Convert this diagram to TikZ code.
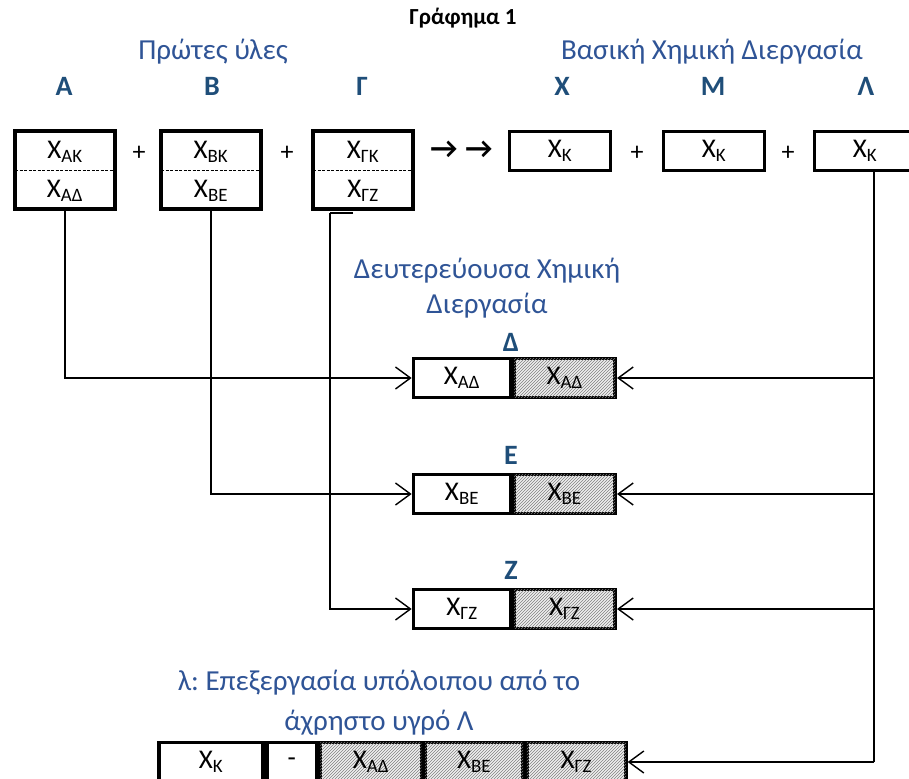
\documentclass[tikz,border=0pt]{standalone}
\usepackage{fontspec}
\setmainfont{Carlito}
\usetikzlibrary{arrows.meta,patterns}
\definecolor{hblue}{RGB}{47,84,150}
\definecolor{lblue}{RGB}{31,78,121}
\frenchspacing
\tikzset{
  bx/.style={draw, line width=3.7pt, inner sep=0pt, minimum height=39pt, font=\fontsize{27}{30}\selectfont},
  tallbx/.style={draw, line width=3.7pt, inner sep=0pt, minimum height=78pt, minimum width=100pt},
  hatch/.style={fill=gray!12, postaction={pattern=north east lines, pattern color=black!50}},
  txt/.style={inner sep=0pt, font=\fontsize{27}{30}\selectfont},
  head/.style={inner sep=0pt, text=hblue, font=\fontsize{29}{36}\selectfont, align=center},
  lab/.style={inner sep=0pt, text=lblue, font=\bfseries\fontsize{28}{30}\selectfont},
  plus/.style={inner sep=0pt, font=\fontsize{26}{28}\selectfont},
  arr/.style={inner sep=0pt, font=\bfseries\fontsize{30}{32}\selectfont},
  conn/.style={line width=1.4pt, -{Straight Barb[length=15pt,width=22pt,line width=1.4pt]}},
  plain/.style={line width=1.4pt},
  divider/.style={line width=0.8pt, dash pattern=on 3pt off 1.5pt}
}
\begin{document}
\begin{tikzpicture}[x=1pt,y=-1pt]
\useasboundingbox (0,0) rectangle (909,778);

% title and headers
\node[inner sep=0pt, font=\bfseries\fontsize{23}{26}\selectfont] (title) at (463,18) {Γράφημα 1};
\node[head] (hraw) at (213,52) {Πρώτες ύλες};
\node[head] (hmain) at (712,52) {Βασική Χημική Διεργασία};

\node[lab] (lA) at (64,86) {Α};
\node[lab] (lB) at (212,86) {Β};
\node[lab] (lG) at (362,86) {Γ};
\node[lab] (lX) at (562,86) {Χ};
\node[lab] (lM) at (713,86) {Μ};
\node[lab] (lL) at (866,86) {Λ};

% top raw material boxes
\node[tallbx] (Abox) at (65,170) {};
\node[tallbx] (Bbox) at (211,170) {};
\node[tallbx] (Gbox) at (363,170) {};
\draw[divider] ([xshift=2pt]Abox.west) -- ([xshift=-2pt]Abox.east);
\draw[divider] ([xshift=2pt]Bbox.west) -- ([xshift=-2pt]Bbox.east);
\draw[divider] ([xshift=2pt]Gbox.west) -- ([xshift=-2pt]Gbox.east);
\node[txt] (Ak) at (65,152) {Χ\textsubscript{ΑΚ}};
\node[txt] (Ad) at (65,191) {Χ\textsubscript{ΑΔ}};
\node[txt] (Bk) at (211,152) {Χ\textsubscript{ΒΚ}};
\node[txt] (Be) at (211,191) {Χ\textsubscript{ΒΕ}};
\node[txt] (Gk) at (363,152) {Χ\textsubscript{ΓΚ}};
\node[txt] (Gz) at (363,191) {Χ\textsubscript{ΓΖ}};

\node[plus] (p1) at (139,153) {+};
\node[plus] (p2) at (287,153) {+};
\node[arr] (ar1) at (444,150) {→};
\node[arr] (ar2) at (479,150) {→};

% main process boxes
\node[bx, minimum width=101pt] (Xbox) at (560,151) {Χ\textsubscript{Κ}};
\node[plus] (p3) at (637,153) {+};
\node[bx, minimum width=101pt] (Mbox) at (714,151) {Χ\textsubscript{Κ}};
\node[plus] (p4) at (788,153) {+};
\node[bx, minimum width=101pt] (Lbox) at (865,151) {Χ\textsubscript{Κ}};

% secondary process
\node[head, font=\fontsize{29}{35}\selectfont] (hsec) at (487,288) {Δευτερεύουσα Χημική\\Διεργασία};
\node[lab] (lD) at (511,342) {Δ};
\node[bx, minimum width=97pt] (Dl) at (462,378) {Χ\textsubscript{ΑΔ}};
\node[bx, hatch, minimum width=101pt, anchor=west] (Dr) at (Dl.east) {Χ\textsubscript{ΑΔ}};

\node[lab] (lE) at (511,455) {Ε};
\node[bx, minimum width=97pt] (El) at (462,494) {Χ\textsubscript{ΒΕ}};
\node[bx, hatch, minimum width=101pt, anchor=west] (Er) at (El.east) {Χ\textsubscript{ΒΕ}};

\node[lab] (lZ) at (511,570) {Ζ};
\node[bx, minimum width=97pt] (Zl) at (462,609) {Χ\textsubscript{ΓΖ}};
\node[bx, hatch, minimum width=101pt, anchor=west] (Zr) at (Zl.east) {Χ\textsubscript{ΓΖ}};

% bottom row
\node[head, font=\fontsize{29}{40}\selectfont] (hbot) at (379,703) {λ: Επεξεργασία υπόλοιπου από το\\άχρηστο υγρό Λ};
\node[bx, minimum width=104pt] (q1) at (211,762) {Χ\textsubscript{Κ}};
\node[bx, minimum width=50pt, anchor=west] (q2) at (q1.east) {-};
\node[bx, hatch, minimum width=101pt, anchor=west] (q3) at (q2.east) {Χ\textsubscript{ΑΔ}};
\node[bx, hatch, minimum width=98pt, anchor=west] (q4) at (q3.east) {Χ\textsubscript{ΒΕ}};
\node[bx, hatch, minimum width=99pt, anchor=west] (q5) at (q4.east) {Χ\textsubscript{ΓΖ}};

% connectors from raw materials
\draw[conn] (Abox.south) |- (Dl.west);
\draw[conn] (Bbox.south) |- (El.west);
\coordinate (gtick) at ([xshift=-10pt,yshift=-2pt]Gbox.south);
\coordinate (gcorner) at ([xshift=-33pt,yshift=-2pt]Gbox.south);
\draw[plain] (gtick) -- (gcorner);
\draw[conn] (gcorner) |- (Zl.west);

% connectors from Lambda
\coordinate (rtop) at ([xshift=9pt]Lbox.south);
\draw[plain] (rtop) -- (rtop |- q5.east);
\draw[conn] (rtop |- Dr.east) -- (Dr.east);
\draw[conn] (rtop |- Er.east) -- (Er.east);
\draw[conn] (rtop |- Zr.east) -- (Zr.east);
\draw[conn] (rtop |- q5.east) -- (q5.east);
\end{tikzpicture}
\end{document}
